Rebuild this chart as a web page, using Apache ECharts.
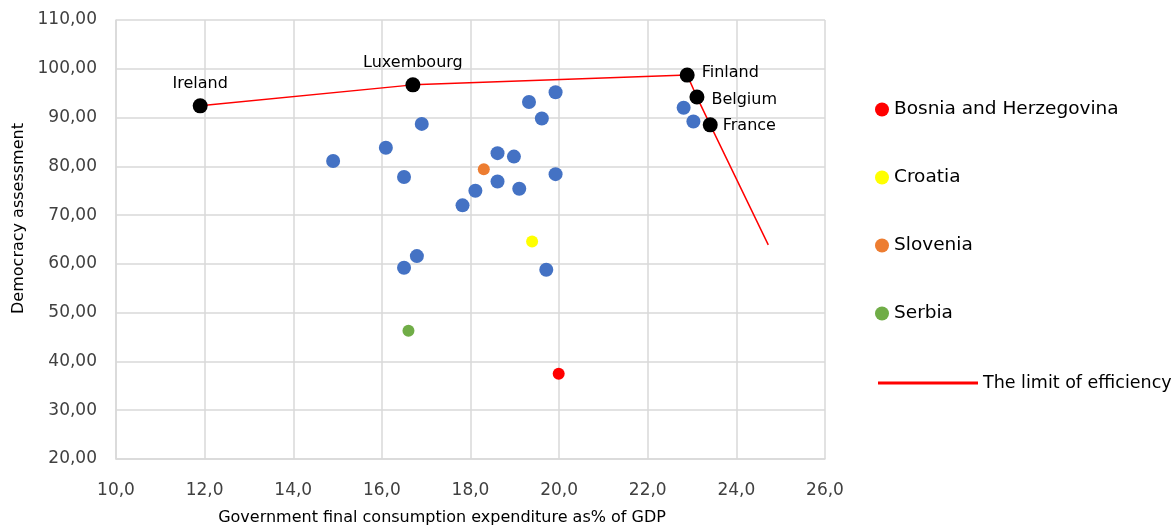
<!DOCTYPE html>
<html>
<head>
	<meta charset="utf-8" />
	<title>Democracy assessment vs government expenditure</title>
	<script src="https://cdn.jsdelivr.net/npm/echarts@6/dist/echarts.min.js"></script>
</head>
<body style="margin:0;">
	<div id="main" style="width: 1176px;height: 528px;"></div>

	<script type="text/javascript">
		// other countries (blue dots)
		var otherCountries = [
			[14.90, 81.1], [16.09, 83.8], [16.50, 77.8], [16.90, 88.7],
			[16.50, 59.2], [16.79, 61.6], [17.82, 72.0], [18.11, 75.0],
			[18.61, 82.7], [18.61, 76.9], [18.98, 82.0], [19.10, 75.4],
			[19.32, 93.2], [19.61, 89.8], [19.92, 95.2], [19.92, 78.4],
			[19.71, 58.8], [22.81, 92.0], [23.03, 89.2]
		];
		var bosnia = [[19.99, 37.5]];
		var croatia = [[19.39, 64.6]];
		var slovenia = [[18.30, 79.4]];
		var serbia = [[16.60, 46.3]];

		// the limit of efficiency (frontier)
		var frontierNames = ['Ireland', 'Luxembourg', 'Finland', 'Belgium', 'France', ''];
		var frontierX = [11.90, 16.70, 22.89, 23.11, 23.41, 24.72];
		var frontierY = [92.4, 96.7, 98.7, 94.2, 88.5, 63.9];
		var labelPos = ['top', 'top', 'right', 'right', 'right', 'right'];
		var labelOffset = [[0, 0], [0, 0], [0, -2], [0, 3], [-2, 1], [0, 0]];

		var frontierData = [];
		for (var i = 0; i < frontierX.length; i++) {
			var item = {
				name: frontierNames[i],
				value: [frontierX[i], frontierY[i]],
				label: {show: frontierNames[i] !== '', position: labelPos[i], offset: labelOffset[i]}
			};
			if (frontierNames[i] === '') {
				item.symbol = 'none';
			}
			frontierData.push(item);
		}

		var myChart = echarts.init(document.getElementById("main"));

		var font = 'DejaVu Sans';

		function dot(name, color, data, size) {
			return {
				name: name,
				type: 'scatter',
				data: data,
				symbolSize: size,
				itemStyle: {color: color, opacity: 1},
				z: 3
			};
		}

		var option = {
			animation: false,
			textStyle: {fontFamily: font},
			grid: {left: 116, right: 351, top: 20, bottom: 69, outerBoundsMode: 'none'},
			legend: [{
				orient: 'vertical',
				left: 870,
				top: 95,
				itemWidth: 14,
				itemHeight: 14,
				itemGap: 49,
				icon: 'circle',
				textStyle: {fontFamily: font, fontSize: 18.5, color: '#000'},
				data: ['Bosnia and Herzegovina', 'Croatia', 'Slovenia', 'Serbia']
			}, {
				orient: 'vertical',
				left: 873,
				top: 369,
				itemWidth: 100,
				itemHeight: 3,
				icon: 'rect',
				textStyle: {fontFamily: font, fontSize: 17.5, color: '#000'},
				data: [{name: 'The limit of efficiency', itemStyle: {color: '#FF0000'}}]
			}],
			xAxis: {
				type: 'value',
				min: 10,
				max: 26,
				interval: 2,
				name: 'Government final consumption expenditure as% of GDP',
				nameLocation: 'middle',
				nameGap: 51,
				nameTextStyle: {fontFamily: font, fontSize: 16, color: '#000', padding: [0, 57, 0, 0]},
				axisLine: {show: true, lineStyle: {color: '#d9d9d9', width: 1.5}},
				axisTick: {show: false},
				axisLabel: {
					fontSize: 17, color: '#404040', margin: 23,
					formatter: function (v) { return v.toFixed(1).replace('.', ','); }
				},
				splitLine: {lineStyle: {color: '#d9d9d9', width: 1.5}}
			},
			yAxis: {
				type: 'value',
				min: 20,
				max: 110,
				interval: 10,
				name: 'Democracy assessment',
				nameLocation: 'middle',
				nameGap: 88,
				nameTextStyle: {fontFamily: font, fontSize: 16, color: '#000', padding: [0, 0, 0, 42]},
				axisLine: {show: true, lineStyle: {color: '#d9d9d9', width: 1.5}},
				axisTick: {show: false},
				axisLabel: {
					fontSize: 17, color: '#404040', margin: 19,
					formatter: function (v) { return v.toFixed(2).replace('.', ','); }
				},
				splitLine: {lineStyle: {color: '#d9d9d9', width: 1.5}}
			},
			series: [
				{
					name: 'others',
					type: 'scatter',
					data: otherCountries,
					symbolSize: 14,
					itemStyle: {color: '#4472C4', opacity: 1},
					z: 3
				},
				dot('Bosnia and Herzegovina', '#FF0000', bosnia, 12),
				dot('Croatia', '#FFFF00', croatia, 12),
				dot('Slovenia', '#ED7D31', slovenia, 12),
				dot('Serbia', '#70AD47', serbia, 12),
				{
					name: 'The limit of efficiency',
					type: 'line',
					data: frontierData,
					symbol: 'circle',
					symbolSize: 15,
					showAllSymbol: true,
					itemStyle: {color: '#000'},
					lineStyle: {color: '#FF0000', width: 1.5},
					label: {
						fontFamily: font, fontSize: 16, color: '#000', distance: 7,
						formatter: '{b}'
					},
					z: 4
				}
			]
		};

		myChart.setOption(option);
	</script>
</body>
</html>
